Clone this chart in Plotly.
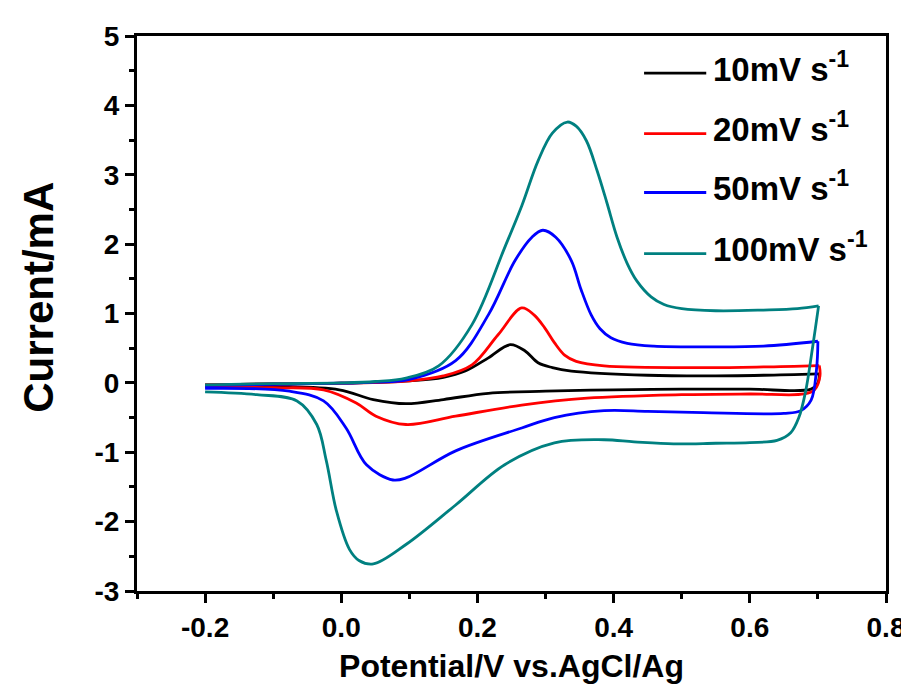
import plotly.graph_objects as go

# ---- data (potential in V, current in mA) ----
labels = ["10mV s<sup>-1</sup>", "20mV s<sup>-1</sup>", "50mV s<sup>-1</sup>", "100mV s<sup>-1</sup>"]
colors = ["#000000", "#ff0000", "#0000ff", "#008080"]

# anodic (forward) sweeps
e_10_fwd = [-0.2, -0.1, 0.0, 0.1, 0.15, 0.182, 0.216, 0.248, 0.27, 0.289, 0.31, 0.338, 0.45, 0.532, 0.62, 0.702]
i_10_fwd = [-0.03, -0.015, -0.005, 0.03, 0.08, 0.17, 0.36, 0.55, 0.46, 0.29, 0.22, 0.17, 0.11, 0.10, 0.11, 0.13]
e_20_fwd = [-0.2, -0.1, 0.0, 0.1, 0.15, 0.192, 0.23, 0.265, 0.283, 0.299, 0.313, 0.328, 0.345, 0.386, 0.532, 0.62, 0.702]
i_20_fwd = [-0.03, -0.015, -0.005, 0.03, 0.10, 0.26, 0.69, 1.08, 0.98, 0.79, 0.58, 0.40, 0.31, 0.245, 0.22, 0.23, 0.25]
e_50_fwd = [-0.2, -0.1, 0.0, 0.05, 0.1, 0.168, 0.216, 0.255, 0.28, 0.296, 0.315, 0.338, 0.352, 0.367, 0.38, 0.396,
            0.42, 0.459, 0.532, 0.62, 0.7]
i_50_fwd = [-0.04, -0.02, -0.005, 0.01, 0.05, 0.32, 0.98, 1.76, 2.10, 2.20, 2.10, 1.76, 1.35, 0.98, 0.78, 0.65,
            0.57, 0.53, 0.52, 0.53, 0.60]
e_100_fwd = [-0.2, -0.1, 0.0, 0.05, 0.095, 0.143, 0.192, 0.24, 0.265, 0.289, 0.31, 0.332, 0.345, 0.36, 0.376, 0.39, 0.405,
             0.42, 0.434, 0.455, 0.474, 0.5, 0.55, 0.62, 0.67, 0.701]
i_100_fwd = [-0.03, -0.01, 0.0, 0.02, 0.07, 0.245, 0.84, 1.95, 2.55, 3.2, 3.6, 3.76, 3.70, 3.49, 3.05, 2.6, 2.1,
             1.72, 1.47, 1.24, 1.13, 1.07, 1.04, 1.05, 1.07, 1.11]

# cathodic (reverse) sweeps
e_10_rev = [0.702, 0.70, 0.69, 0.6, 0.5, 0.4, 0.3, 0.216, 0.15, 0.095, 0.047, -0.003, -0.1, -0.2]
i_10_rev = [0.13, 0.0, -0.09, -0.09, -0.09, -0.10, -0.12, -0.15, -0.24, -0.30, -0.24, -0.10, -0.05, -0.04]
e_20_rev = [0.702, 0.703, 0.695, 0.68, 0.6, 0.5, 0.361, 0.265, 0.168, 0.095, 0.051, 0.022, -0.026, -0.1, -0.2]
i_20_rev = [0.25, 0.10, -0.10, -0.16, -0.16, -0.17, -0.22, -0.32, -0.48, -0.60, -0.48, -0.29, -0.10, -0.07, -0.06]
e_50_rev = [0.7, 0.698, 0.69, 0.675, 0.65, 0.532, 0.45, 0.386, 0.313, 0.265, 0.168, 0.095, 0.076, 0.037, 0.007,
            -0.026, -0.076, -0.2]
i_50_rev = [0.60, 0.20, -0.25, -0.40, -0.44, -0.43, -0.41, -0.40, -0.50, -0.65, -0.98, -1.37, -1.40, -1.18, -0.65,
            -0.26, -0.12, -0.08]
e_100_rev = [0.701, 0.692, 0.682, 0.672, 0.66, 0.64, 0.6, 0.55, 0.488, 0.43, 0.386, 0.313, 0.24, 0.168, 0.095,
             0.047, 0.026, 0.012, -0.007, -0.022, -0.036, -0.065, -0.124, -0.2]
i_100_rev = [1.11, 0.50, -0.12, -0.50, -0.72, -0.83, -0.86, -0.87, -0.88, -0.85, -0.82, -0.865, -1.18, -1.76, -2.33,
             -2.61, -2.56, -2.40, -1.85, -1.12, -0.60, -0.26, -0.17, -0.13]

series = [
    (e_10_fwd, i_10_fwd, e_10_rev, i_10_rev),
    (e_20_fwd, i_20_fwd, e_20_rev, i_20_rev),
    (e_50_fwd, i_50_fwd, e_50_rev, i_50_rev),
    (e_100_fwd, i_100_fwd, e_100_rev, i_100_rev),
]

x_ticks = [-0.2, 0.0, 0.2, 0.4, 0.6, 0.8]
y_ticks = [-3, -2, -1, 0, 1, 2, 3, 4, 5]

FONT = "Liberation Sans, Arial, sans-serif"

fig = go.Figure()
for (ef, jf, er, jr), name, c in zip(series, labels, colors):
    fig.add_trace(go.Scatter(x=ef + [None] + er, y=jf + [None] + jr, mode="lines", name=name,
                             connectgaps=False,
                             line=dict(color=c, width=2.8, shape="spline", smoothing=1.0),
                             showlegend=False))

# manual legend (long sample lines like the original)
leg_y = [0.933, 0.824, 0.718, 0.608]
for yy, name, c in zip(leg_y, labels, colors):
    fig.add_shape(type="line", xref="paper", yref="paper", x0=0.677, x1=0.760, y0=yy, y1=yy,
                  line=dict(color=c, width=2.8))
    fig.add_annotation(xref="paper", yref="paper", x=0.766, y=yy + 0.012, text="<b>" + name + "</b>",
                       showarrow=False, xanchor="left", yanchor="middle",
                       font=dict(family=FONT, size=33, color="black"))

# y-axis title placed like the original
fig.add_annotation(xref="paper", yref="paper", x=-0.131, y=0.53, text="<b>Current/mA</b>",
                   textangle=-90, showarrow=False, xanchor="center", yanchor="middle",
                   font=dict(family=FONT, size=42, color="black"))

axis_common = dict(showline=True, linecolor="black", linewidth=3, mirror=True,
                   ticks="outside", ticklen=9, tickwidth=2.5, tickcolor="black",
                   showgrid=False, zeroline=False,
                   tickfont=dict(family=FONT, size=28, color="black", weight="bold"))

fig.update_xaxes(range=[-0.3, 0.8], tickvals=x_ticks, ticktext=["%.1f" % v for v in x_ticks],
                 minor=dict(ticks="outside", ticklen=5, tickwidth=2.5, tickcolor="black", dtick=0.1, tick0=-0.3),
                 title=dict(text="<b>Potential/V vs.AgCl/Ag</b>", font=dict(family=FONT, size=32, color="black"), standoff=14),
                 **axis_common)
fig.update_yaxes(range=[-3, 5], tickvals=y_ticks, ticktext=[str(v) for v in y_ticks],
                 minor=dict(ticks="outside", ticklen=5, tickwidth=2.5, tickcolor="black", dtick=0.5, tick0=-3),
                 **axis_common)

fig.update_layout(width=909, height=690, margin=dict(l=129, r=25, t=28, b=107),
                  plot_bgcolor="white", paper_bgcolor="white")

fig.write_html("out.html")
